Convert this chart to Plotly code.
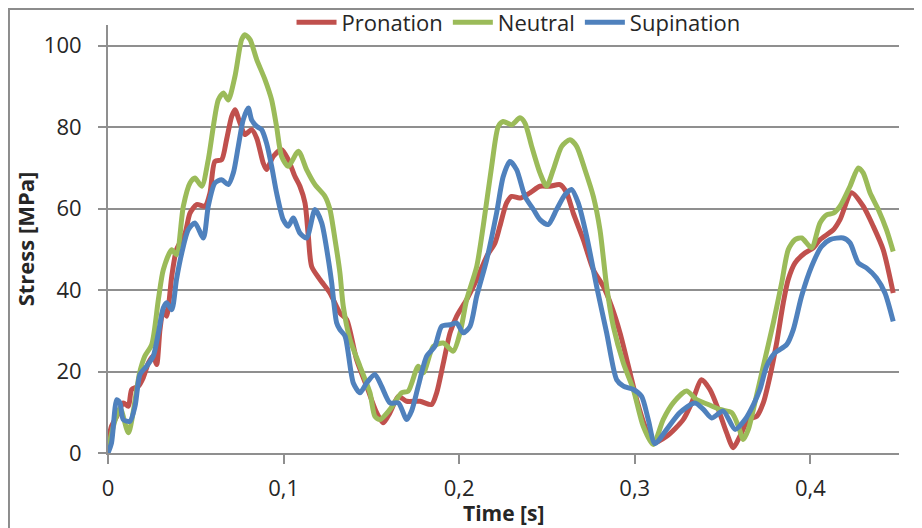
import plotly.graph_objects as go

# ---- data ----
pron_t = [0, 0.002, 0.005, 0.0087, 0.0116, 0.0135, 0.0173, 0.0201, 0.023, 0.0258, 0.0277, 0.0296, 0.0315,
          0.0334, 0.0363, 0.039, 0.0439, 0.0467, 0.0505, 0.0552, 0.0581, 0.0609, 0.0647, 0.0675, 0.0704,
          0.0723, 0.0752, 0.078, 0.0818, 0.0847, 0.0884, 0.0903, 0.0941, 0.0989, 0.1027, 0.1065, 0.1093,
          0.1122, 0.1141, 0.116, 0.1207, 0.1264, 0.1321, 0.1359, 0.1416, 0.1473, 0.153, 0.1568, 0.1606,
          0.1654, 0.1701, 0.1777, 0.1843, 0.1872, 0.191, 0.1948, 0.1986, 0.2043, 0.21, 0.2157, 0.2204,
          0.2232, 0.227, 0.2299, 0.2346, 0.2403, 0.246, 0.2517, 0.2574, 0.2612, 0.265, 0.2707, 0.2764,
          0.2821, 0.2868, 0.2916, 0.2973, 0.3011, 0.3058, 0.3105, 0.3182, 0.3276, 0.3324, 0.3381, 0.3428,
          0.3476, 0.3523, 0.3561, 0.3599, 0.3647, 0.3694, 0.3732, 0.377, 0.3808, 0.3846, 0.3874, 0.3913,
          0.3969, 0.4017, 0.4055, 0.4131, 0.4169, 0.4235, 0.4301, 0.4358, 0.4415, 0.4472]
pron_v = [2.6, 6.6, 9.0, 12.3, 11.5, 15.6, 16.4, 18.5, 22.1, 23.8, 21.7, 30.3, 35.2,
          33.6, 43.4, 49.9, 54.0, 58.9, 61.0, 60.6, 63.9, 71.6, 72.0, 76.9, 82.6,
          84.3, 81.0, 78.2, 79.4, 77.3, 71.2, 69.6, 72.8, 74.5, 72.0, 67.9, 65.5,
          61.4, 53.2, 45.8, 42.6, 39.3, 34.4, 32.8, 22.9, 16.4, 9.9, 7.4, 9.9,
          13.9, 12.7, 12.7, 11.9, 14.8, 22.1, 29.5, 33.6, 37.7, 42.6, 48.3, 51.6,
          55.7, 61.4, 63.0, 62.6, 63.9, 65.5, 65.5, 65.9, 63.9, 58.9, 52.4, 45.0,
          40.9, 36.0, 29.5, 19.7, 13.1, 6.6, 2.5, 4.1, 8.2, 12.3, 18.0, 15.6,
          10.7, 5.0, 1.3, 4.1, 8.2, 9.0, 12.3, 18.8, 27.0, 36.9, 42.6, 46.7,
          49.1, 50.4, 52.4, 54.8, 57.3, 63.9, 60.6, 55.7, 49.9, 39.3]

neut_t = [0, 0.004, 0.007, 0.0116, 0.018, 0.021, 0.0249, 0.0287, 0.0315, 0.0363, 0.039, 0.0429, 0.0467,
          0.0495, 0.0534, 0.0571, 0.0628, 0.0657, 0.0685, 0.0723, 0.0761, 0.078, 0.0809, 0.0847, 0.0894,
          0.0932, 0.096, 0.0989, 0.1027, 0.1084, 0.1131, 0.1179, 0.1236, 0.1264, 0.1293, 0.1321, 0.134,
          0.1378, 0.1435, 0.1492, 0.152, 0.1549, 0.1606, 0.1672, 0.171, 0.1767, 0.1796, 0.1853, 0.191,
          0.1966, 0.2005, 0.2043, 0.21, 0.2137, 0.2185, 0.2223, 0.2251, 0.2299, 0.2346, 0.2375, 0.2413,
          0.246, 0.2498, 0.2536, 0.2584, 0.2631, 0.2669, 0.2716, 0.2764, 0.2802, 0.284, 0.2878, 0.2935,
          0.2992, 0.3048, 0.3105, 0.3162, 0.3219, 0.3295, 0.3352, 0.3419, 0.3485, 0.3552, 0.359, 0.3618,
          0.3647, 0.3684, 0.3732, 0.3789, 0.3837, 0.3874, 0.3913, 0.3951, 0.4007, 0.4055, 0.4093, 0.4131,
          0.4169, 0.4226, 0.4273, 0.4301, 0.434, 0.4387, 0.4434, 0.4472]
neut_v = [1.0, 8.0, 11.0, 5.0, 19.7, 23.8, 26.6, 37.7, 45.0, 49.9, 48.7, 60.6, 66.3,
          67.5, 65.5, 72.0, 86.7, 88.4, 86.7, 92.5, 101.5, 102.7, 101.5, 96.6, 91.7,
          86.7, 80.2, 72.8, 70.4, 74.1, 69.6, 65.9, 63.0, 59.8, 52.4, 44.2, 36.0,
          27.9, 21.3, 14.8, 9.0, 8.2, 10.7, 14.8, 15.2, 21.3, 19.7, 26.2, 27.0,
          25.0, 29.5, 37.7, 45.8, 55.7, 70.4, 80.2, 81.4, 80.6, 82.3, 81.0, 75.3,
          68.8, 65.5, 69.6, 75.3, 76.9, 75.3, 69.6, 63.0, 54.8, 40.9, 31.1, 22.1,
          15.6, 6.6, 2.1, 8.2, 12.3, 15.2, 13.1, 11.9, 10.7, 9.9, 6.6, 3.3,
          5.8, 12.3, 21.3, 31.9, 41.8, 49.9, 52.4, 52.8, 50.4, 56.5, 58.5, 58.9,
          60.6, 65.5, 70.0, 68.8, 63.9, 59.8, 54.8, 49.5]

sup_t = [0, 0.002, 0.005, 0.0068, 0.0087, 0.0125, 0.0154, 0.0182, 0.022, 0.0258, 0.0287, 0.0315, 0.0334,
         0.0363, 0.039, 0.042, 0.0457, 0.0495, 0.0543, 0.0571, 0.0609, 0.0647, 0.0685, 0.0714, 0.0742,
         0.077, 0.0799, 0.0818, 0.0847, 0.0875, 0.0903, 0.0932, 0.096, 0.0998, 0.1027, 0.1055, 0.1093,
         0.1131, 0.1179, 0.1217, 0.1255, 0.1274, 0.1302, 0.1321, 0.135, 0.1397, 0.1435, 0.1473, 0.152,
         0.1558, 0.1606, 0.1654, 0.1701, 0.1729, 0.1767, 0.1815, 0.1862, 0.19, 0.1948, 0.1986, 0.2024,
         0.2062, 0.21, 0.2157, 0.2213, 0.2251, 0.2289, 0.2327, 0.2375, 0.2423, 0.246, 0.2507, 0.2555,
         0.2602, 0.264, 0.2678, 0.2726, 0.2783, 0.284, 0.2897, 0.2935, 0.2992, 0.3039, 0.3077, 0.3115,
         0.3182, 0.3257, 0.3343, 0.3391, 0.3438, 0.3504, 0.3571, 0.3628, 0.3676, 0.3713, 0.3751, 0.3799,
         0.3865, 0.3903, 0.395, 0.4007, 0.4064, 0.4112, 0.4187, 0.4226, 0.4273, 0.4321, 0.4377, 0.4425,
         0.4472]
sup_v = [0.0, 2.5, 13.1, 12.3, 8.2, 7.8, 11.5, 19.3, 21.3, 23.8, 29.5, 35.6, 36.9,
         35.2, 42.6, 49.1, 54.8, 56.5, 52.8, 60.6, 66.3, 67.1, 65.9, 68.8, 75.3,
         81.8, 84.7, 81.8, 80.2, 79.4, 76.1, 70.4, 63.9, 57.3, 55.7, 57.7, 54.0,
         52.8, 59.8, 56.5, 47.5, 41.8, 32.0, 30.3, 28.7, 17.2, 14.8, 17.2, 19.3,
         16.4, 12.3, 12.3, 8.2, 10.3, 16.4, 23.8, 26.2, 31.1, 31.5, 31.9, 29.5,
         31.1, 38.5, 47.5, 58.9, 67.9, 71.6, 69.6, 63.0, 59.8, 57.3, 56.1, 59.8,
         63.4, 64.7, 61.4, 53.2, 40.9, 29.5, 18.0, 16.4, 15.6, 13.9, 8.2, 2.3,
         5.8, 9.9, 12.3, 10.7, 8.6, 10.3, 5.8, 8.2, 11.9, 15.6, 21.3, 24.6,
         26.6, 30.3, 38.5, 45.8, 50.7, 52.4, 52.8, 51.6, 46.7, 45.4, 43.0, 39.3,
         32.3]

x_tickvals = [0, 0.1, 0.2, 0.3, 0.4]
x_ticktext = ["0", "0,1", "0,2", "0,3", "0,4"]
y_tickvals = [0, 20, 40, 60, 80, 100]
x_title = "Time [s]"
y_title = "Stress [MPa]"

series = [
    ("Pronation", pron_t, pron_v, "#C0504D"),
    ("Neutral", neut_t, neut_v, "#9BBB59"),
    ("Supination", sup_t, sup_v, "#4F81BD"),
]

FONT = "Open Sans"
GRID = "#8f8f8f"
TXT = "#262626"

fig = go.Figure()
for name, t, v, col in series:
    fig.add_trace(go.Scatter(
        x=t, y=v, name=name, mode="lines",
        line=dict(color=col, width=5, shape="spline", smoothing=0.7),
    ))

# The page body adds an 8 px offset; margins compensate for it.
fig.update_layout(
    width=922, height=528,
    margin=dict(l=100, r=31, t=17, b=83, autoexpand=False),
    paper_bgcolor="white", plot_bgcolor="white",
    font=dict(family=FONT, size=22, color=TXT),
    showlegend=True,
    legend=dict(orientation="h", x=0.519, xanchor="center", y=1.006, yanchor="middle",
                bgcolor="rgba(0,0,0,0)", font=dict(family=FONT, size=22, color=TXT),
                itemwidth=40, tracegroupgap=0),
    xaxis=dict(
        range=[0, 0.4505], tickvals=x_tickvals, ticktext=x_ticktext,
        showgrid=False, zeroline=False, automargin=False,
        showline=True, linecolor=GRID, linewidth=2,
        ticks="outside", ticklen=9, tickwidth=2, tickcolor=GRID,
        ticklabelstandoff=6,
        tickfont=dict(family=FONT, size=22, color=TXT),
    ),
    yaxis=dict(
        range=[0, 105.1], tickvals=y_tickvals,
        showgrid=True, gridcolor=GRID, gridwidth=2, zeroline=False, automargin=False,
        showline=True, linecolor=GRID, linewidth=2,
        ticks="outside", ticklen=8, tickwidth=2, tickcolor=GRID,
        ticklabelstandoff=12,
        tickfont=dict(family=FONT, size=22, color=TXT),
        title=dict(text="<b>" + y_title + "</b>", standoff=3,
                   font=dict(family=FONT, size=22, color=TXT)),
    ),
    annotations=[dict(text="<b>" + x_title + "</b>", xref="paper", yref="paper",
                      x=0.5, y=-0.1405, xanchor="center", yanchor="middle", showarrow=False,
                      borderpad=0, font=dict(family=FONT, size=21, color=TXT))],
    shapes=[dict(type="rect", xref="paper", yref="paper",
                 x0=-0.1252, x1=1.1, y0=-0.3, y1=1.0374,
                 line=dict(color="#8c8c8c", width=2), fillcolor="rgba(0,0,0,0)", layer="below")],
)

fig.write_html("out.html")
